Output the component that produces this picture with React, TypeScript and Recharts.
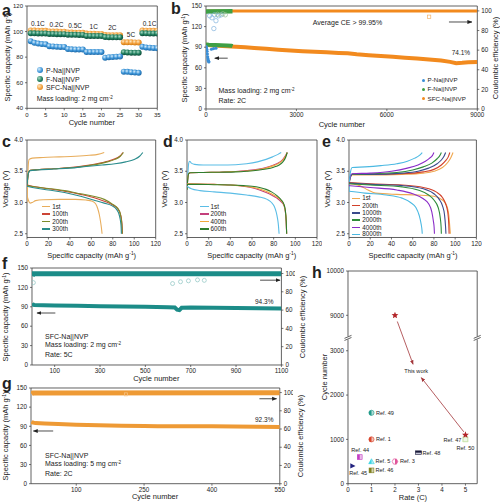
import React from 'react';
import {
  ComposedChart, ScatterChart, LineChart, Scatter, Line, XAxis, YAxis,
  ReferenceArea, ReferenceLine,
} from 'recharts';

const FONT = '"Liberation Sans", Arial, Helvetica, sans-serif';
const INK = '#222';
const AXIS = '#3a3a3a';

/* ---------------- a: rate capability ---------------- */
const rateCycles = [1, 2, 3, 4, 5, 6, 7, 8, 9, 10, 11, 12, 13, 14, 15, 16, 17, 18, 19, 20, 21, 22, 23, 24, 25, 26, 27, 28, 29, 30, 31, 32, 33, 34, 35];
const rateSteps = ['0.1C', '0.2C', '0.5C', '1C', '2C', '5C', '0.1C'];
const pNaRate = [92.5, 91.2, 90.6, 90.2, 90.0, 88.6, 88.4, 88.1, 88.0, 88.0, 86.4, 86.1, 86.0, 86.0, 86.0, 84.1, 84.0, 84.0, 84.0, 84.0, 79.5, 80.0, 80.1, 80.3, 80.5, 68.6, 68.5, 68.2, 68.0, 67.8, 88.1, 87.6, 87.4, 87.1, 87.0];
const fNaRate = [98.6, 98.6, 98.5, 98.5, 98.5, 98.1, 98.1, 98.0, 98.0, 98.0, 97.6, 97.5, 97.5, 97.4, 97.4, 96.6, 96.6, 96.5, 96.5, 96.5, 95.7, 95.6, 95.6, 95.5, 95.5, 83.8, 83.6, 83.5, 83.4, 83.4, 98.7, 98.6, 98.5, 98.5, 98.5];
const sfcRate = [100.9, 100.8, 100.7, 100.6, 100.6, 100.1, 100.0, 100.0, 99.9, 99.9, 99.3, 99.2, 99.1, 99.1, 99.0, 98.4, 98.3, 98.3, 98.2, 98.2, 97.3, 97.2, 97.2, 97.1, 97.1, 91.7, 91.6, 91.6, 91.5, 91.5, 100.8, 100.7, 100.6, 100.6, 100.5];
const cellNames = ['P-Na||NVP', 'F-Na||NVP', 'SFC-Na||NVP'];

/* ---------------- b: 2C long cycling ---------------- */
const sfcCapB = [[0, 93.5], [150, 92.8], [400, 92], [700, 91.2], [1000, 90.5], [1300, 89.8], [1600, 88.9], [2000, 87.6], [2400, 86.4], [2800, 85.2], [3200, 84.2], [3600, 83.3], [4000, 82.5], [4400, 81.6], [4700, 81.2], [5000, 79.8], [5400, 78.4], [5800, 77.2], [6200, 76], [6600, 74.8], [7000, 73.6], [7400, 72.2], [7800, 70.6], [8100, 68.6], [8300, 66.8], [8500, 67.2], [8700, 68.2], [9000, 68.4]];
const sfcCeB = [[0, 99.3], [50, 99.8], [1000, 99.9], [3000, 99.9], [6000, 99.95], [9000, 99.95]];
const fCapB = [[0, 93.8], [100, 93.5], [300, 93.2], [500, 93], [700, 92.6], [840, 92.2], [880, 91.5]];
const fCeB = [[0, 99.5], [880, 99.6]];
const pCapB = [[5, 91], [15, 89], [25, 87], [35, 84], [45, 80], [55, 76], [65, 73], [75, 71], [85, 69.5], [95, 68.5], [180, 87], [250, 88], [330, 88.5]];
const pCeB = [[120, 95], [200, 93], [280, 96], [330, 90], [420, 95], [500, 96], [260, 82]];
const fCeOutB = [[380, 96.5], [560, 97], [640, 96]];
const sfcCeOutB = [[7400, 94]];

/* ---------------- c, d, e: charge/discharge profiles ---------------- */
const cCycles = ['1st', '100th', '200th', '300th'];
const cCharge = [
  [[0, 3.0], [0.6, 3.3], [1.2, 3.6], [2, 3.69], [5, 3.71], [15, 3.72], [30, 3.73], [45, 3.74], [58, 3.755], [66, 3.77], [72, 3.8]],
  [[0, 3.28], [0.6, 3.38], [1.5, 3.48], [3, 3.515], [10, 3.525], [25, 3.54], [40, 3.56], [55, 3.59], [65, 3.62], [75, 3.66], [82, 3.7], [86.5, 3.74], [89.5, 3.8]],
  [[0, 3.27], [0.6, 3.38], [1.5, 3.48], [3, 3.515], [10, 3.525], [25, 3.54], [40, 3.555], [55, 3.585], [65, 3.61], [75, 3.65], [82, 3.69], [87, 3.74], [90, 3.8]],
  [[0, 3.26], [0.6, 3.38], [1.5, 3.48], [3, 3.51], [10, 3.52], [25, 3.535], [40, 3.55], [55, 3.575], [70, 3.6], [82, 3.62], [92, 3.65], [100, 3.69], [105, 3.74], [108, 3.8]],
];
const cDischarge = [
  [[0, 3.12], [1.2, 3.04], [3, 2.99], [5, 3.0], [8, 3.03], [15, 3.045], [30, 3.05], [45, 3.05], [55, 3.04], [61, 3.02], [64, 2.98], [66, 2.9], [67.5, 2.8], [68.7, 2.68], [69.5, 2.58], [70, 2.5]],
  [[0, 3.28], [5, 3.26], [20, 3.22], [35, 3.18], [50, 3.13], [62, 3.08], [72, 3.02], [80, 2.96], [84.5, 2.9], [87, 2.82], [88.2, 2.72], [88.8, 2.6], [89, 2.5]],
  [[0, 3.27], [5, 3.255], [20, 3.225], [35, 3.19], [50, 3.14], [62, 3.1], [72, 3.05], [80, 2.97], [84.5, 2.91], [87, 2.82], [88, 2.72], [88.6, 2.6], [88.8, 2.5]],
  [[0, 3.26], [5, 3.24], [20, 3.2], [35, 3.16], [50, 3.1], [62, 3.04], [72, 2.99], [79, 2.95], [83.5, 2.89], [86, 2.8], [87.2, 2.7], [87.8, 2.6], [88, 2.5]],
];
const dCycles = ['1st', '200th', '400th', '600th'];
const dCharge = [
  [[0, 3.22], [0.8, 3.45], [1.6, 3.63], [2.5, 3.66], [4, 3.63], [7, 3.61], [15, 3.6], [30, 3.6], [45, 3.605], [55, 3.62], [65, 3.65], [73, 3.69], [79, 3.73], [84, 3.77], [87, 3.8]],
  [[0, 3.22], [0.6, 3.36], [1.5, 3.46], [3, 3.475], [15, 3.48], [30, 3.485], [45, 3.495], [55, 3.51], [65, 3.53], [73, 3.56], [80, 3.6], [85, 3.64], [88.5, 3.69], [91, 3.75], [92.5, 3.8]],
  [[0, 3.22], [0.6, 3.36], [1.5, 3.46], [3, 3.475], [15, 3.48], [30, 3.485], [45, 3.495], [55, 3.505], [65, 3.525], [73, 3.55], [80, 3.59], [85, 3.63], [88.5, 3.68], [91, 3.74], [92.5, 3.8]],
  [[0, 3.2], [0.6, 3.35], [1.5, 3.46], [3, 3.475], [15, 3.48], [30, 3.485], [45, 3.49], [55, 3.5], [65, 3.515], [73, 3.535], [80, 3.565], [85, 3.6], [88.5, 3.65], [91, 3.72], [92.5, 3.8]],
];
const dDischarge = [
  [[0, 3.26], [4, 3.22], [12, 3.19], [25, 3.17], [40, 3.15], [55, 3.12], [66, 3.09], [74, 3.05], [78, 3.0], [80.5, 2.94], [82.3, 2.85], [83.5, 2.75], [84.3, 2.65], [85, 2.5]],
  [[0, 3.3], [10, 3.295], [25, 3.29], [40, 3.28], [52, 3.26], [60, 3.235], [67, 3.2], [73, 3.16], [78, 3.12], [83, 3.07], [87, 3.01], [89.5, 2.95], [90.8, 2.85], [91.5, 2.7], [92, 2.5]],
  [[0, 3.3], [10, 3.297], [25, 3.29], [40, 3.28], [52, 3.265], [60, 3.245], [67, 3.215], [73, 3.18], [78, 3.14], [83, 3.09], [87, 3.03], [89.5, 2.96], [90.8, 2.86], [91.6, 2.7], [92, 2.5]],
  [[0, 3.29], [10, 3.29], [25, 3.285], [40, 3.28], [52, 3.27], [60, 3.26], [67, 3.24], [73, 3.21], [78, 3.17], [83, 3.11], [87, 3.04], [89.5, 2.97], [90.8, 2.87], [91.6, 2.7], [92, 2.5]],
];
const eCycles = ['1st', '200th', '1000th', '2000th', '4000th', '8000th'];
const eCharge = [
  [[0, 3.25], [1, 3.38], [3, 3.44], [20, 3.44], [50, 3.45], [70, 3.47], [80, 3.5], [88, 3.56], [93, 3.64], [96, 3.72], [98, 3.8]],
  [[0, 3.28], [1, 3.4], [3, 3.45], [20, 3.45], [50, 3.46], [70, 3.49], [80, 3.53], [87, 3.6], [91, 3.67], [93.5, 3.73], [95, 3.8]],
  [[0, 3.3], [1, 3.4], [3, 3.45], [20, 3.45], [50, 3.47], [65, 3.5], [75, 3.55], [83, 3.62], [87, 3.68], [89.5, 3.74], [91, 3.8]],
  [[0, 3.3], [1, 3.4], [3, 3.45], [20, 3.46], [45, 3.48], [60, 3.52], [70, 3.57], [78, 3.63], [83, 3.7], [85.5, 3.75], [87, 3.8]],
  [[0, 3.27], [1, 3.4], [3, 3.46], [20, 3.47], [40, 3.5], [55, 3.55], [65, 3.6], [72, 3.66], [76, 3.71], [78.5, 3.75], [80, 3.8]],
  [[0, 3.18], [1, 3.45], [3, 3.56], [15, 3.57], [30, 3.59], [45, 3.62], [55, 3.66], [62, 3.71], [66, 3.75], [69, 3.8]],
];
const eDischarge = [
  [[0, 3.3], [10, 3.27], [18, 3.2], [25, 3.15], [45, 3.13], [65, 3.12], [80, 3.1], [88, 3.04], [92, 2.95], [94, 2.8], [95, 2.6], [95.5, 2.5]],
  [[0, 3.32], [20, 3.3], [50, 3.28], [70, 3.24], [82, 3.17], [88, 3.08], [91, 2.98], [93, 2.85], [94, 2.65], [94.3, 2.5]],
  [[0, 3.31], [20, 3.29], [50, 3.27], [70, 3.22], [80, 3.14], [85, 3.05], [88, 2.95], [90, 2.8], [91, 2.6], [91.3, 2.5]],
  [[0, 3.3], [20, 3.28], [50, 3.25], [65, 3.2], [75, 3.12], [80, 3.04], [84, 2.92], [86, 2.75], [86.8, 2.6], [87, 2.5]],
  [[0, 3.27], [20, 3.24], [45, 3.2], [60, 3.14], [70, 3.06], [75, 2.98], [78, 2.85], [79.5, 2.7], [80.2, 2.6], [80.5, 2.5]],
  [[0, 3.18], [15, 3.15], [35, 3.12], [50, 3.07], [58, 3.0], [63, 2.92], [66, 2.8], [68, 2.65], [68.8, 2.55], [69, 2.5]],
];

/* ---------------- f: 5C cycling ---------------- */
const fCap = [[1, 95.5], [4, 93.5], [10, 92.8], [50, 92.5], [100, 92.1], [200, 91.5], [300, 91], [400, 90.4], [500, 89.9], [600, 89.3], [630, 88.8], [640, 85.5], [650, 84.8], [660, 88.5], [700, 88.9], [800, 88.5], [900, 88.2], [1000, 87.8], [1100, 87.5]];
const fCe = [[1, 97], [5, 99.7], [1100, 99.8]];
const fCeOut = [[6, 90], [620, 89], [655, 91], [690, 92], [730, 93], [760, 92.5]];

/* ---------------- g: 5 mg cm-2 cycling ---------------- */
const gCap = [[1, 97.5], [3, 96], [10, 95], [30, 94.5], [60, 93.5], [100, 92.5], [150, 91.6], [200, 91], [250, 90.5], [280, 90], [350, 90.2], [400, 90], [450, 89.6], [500, 89.2], [550, 88.9]];
const gCe = [[1, 98.5], [4, 99.6], [550, 99.7]];
const gCeOut = [[210, 98]];

/* ---------------- h: comparison with literature ---------------- */
const refNames = ['Ref. 49', 'Ref. 1', 'Ref. 44', 'Ref. 5', 'Ref. 45', 'Ref. 46', 'Ref. 3', 'Ref. 48', 'Ref. 47', 'Ref. 50'];
const refRates = [1, 1, 0.5, 1, 0.2, 1, 2, 3, 5, 5];
const refCycles = [1600, 1000, 600, 500, 400, 300, 500, 700, 1000, 1000];
const workRates = [2, 5];
const workCycles = [9000, 1100];

// broken cycle-number axis: values above the gap are shifted down
const GAP_LO = 3300;
const GAP_HI = 8500;
const shownY = (v: number) => (v >= GAP_HI ? v - (GAP_HI - GAP_LO) : v);
const realY = (v: number) => (v > GAP_LO ? v + (GAP_HI - GAP_LO) : v);

/* ---------------- layout ---------------- */
type Geo = { x0: number; x1: number; y0: number; y1: number; xd: number[]; yd: number[]; rd?: number[] };
const GA: Geo = { x0: 26.7, x1: 157, y0: 6, y1: 108.3, xd: [0, 35], yd: [40, 120] };
const GB: Geo = { x0: 206.2, x1: 477.5, y0: 6, y1: 109, xd: [0, 9000], yd: [0, 150], rd: [0, 105] };
const GC: Geo = { x0: 27.3, x1: 156, y0: 140, y1: 237.5, xd: [0, 120], yd: [2.44, 4.0] };
const GD: Geo = { ...GC, x0: 186.7, x1: 316.7 };
const GE: Geo = { ...GC, x0: 349.3, x1: 476.7 };
const GF: Geo = { x0: 31.6, x1: 281, y0: 268, y1: 365, xd: [0, 1100], yd: [0, 150], rd: [0, 106] };
const GG: Geo = { x0: 30.7, x1: 279.5, y0: 388, y1: 483.7, xd: [0, 550], yd: [0, 150], rd: [0, 105] };
const GH: Geo = { x0: 348.3, x1: 477.5, y0: 271, y1: 483.7, xd: [0, 5.5], yd: [0, 4800] };

const px = (g: Geo, x: number) => g.x0 + ((x - g.xd[0]) / (g.xd[1] - g.xd[0])) * (g.x1 - g.x0);
const py = (g: Geo, y: number) => g.y1 - ((y - g.yd[0]) / (g.yd[1] - g.yd[0])) * (g.y1 - g.y0);

type Pad = { l: number; r: number; t: number; b: number };
function place(g: Geo, p: Pad) {
  return {
    style: { position: 'absolute' as const, left: g.x0 - p.l, top: g.y0 - p.t },
    width: g.x1 - g.x0 + p.l + p.r,
    height: g.y1 - g.y0 + p.t + p.b,
  };
}

const axisProps = (fs: number, margin = 2) => ({
  axisLine: false,
  tickLine: { stroke: AXIS, strokeWidth: 0.7 },
  tickSize: 2,
  tickMargin: margin,
  interval: 0 as const,
  allowDataOverflow: true,
  tick: { fontSize: fs, fill: INK, fontFamily: FONT },
});

const pts = (arr: number[][]) => arr.map(([c, v]) => ({ c, v }));

/* ---------------- text helpers ---------------- */
type TP = { x: number; y: number; size?: number; anchor?: 'start' | 'middle' | 'end'; rot?: boolean; bold?: boolean; children: React.ReactNode };
function Txt({ x, y, size = 7, anchor = 'start', rot = false, bold = false, children }: TP) {
  const tx = anchor === 'start' ? '0%' : anchor === 'middle' ? '-50%' : '-100%';
  return (
    <div
      style={{
        position: 'absolute', left: x, top: y, fontSize: size, fontWeight: bold ? 700 : 400,
        lineHeight: 1, whiteSpace: 'nowrap', color: INK, fontFamily: FONT,
        transform: rot ? 'translate(-50%,-50%) rotate(-90deg)' : `translate(${tx},-50%)`,
      }}
    >
      {children}
    </div>
  );
}
const Sup = ({ children }: { children: React.ReactNode }) => (
  <span style={{ fontSize: '0.65em', position: 'relative', top: '-0.45em' }}>{children}</span>
);
const capTitle = <>Specific capacity (mAh g<Sup>-1</Sup>)</>;

/* ---------------- marker shapes ---------------- */
const ball = (id: string, r: number) => (p: any) => <circle cx={p.cx} cy={p.cy} r={r} fill={`url(#${id})`} />;
const dotShape = (color: string, r: number) => (p: any) => <circle cx={p.cx} cy={p.cy} r={r} fill={color} />;
const ringShape = (color: string, r: number) => (p: any) => (
  <circle cx={p.cx} cy={p.cy} r={r} fill="none" stroke={color} strokeWidth={0.7} />
);
const openSquareShape = (color: string, s: number) => (p: any) => (
  <rect x={p.cx - s / 2} y={p.cy - s / 2} width={s} height={s} fill="none" stroke={color} strokeWidth={0.7} />
);
const arrow = (head: string, color: string) => (p: any) => (
  <line x1={p.x1} y1={p.y1} x2={p.x2} y2={p.y2} stroke={color} strokeWidth={0.8} markerEnd={`url(#${head})`} />
);

function starPath(cx: number, cy: number, R: number) {
  const out: string[] = [];
  for (let i = 0; i < 10; i++) {
    const rr = i % 2 === 0 ? R : R * 0.45;
    const a = -Math.PI / 2 + (i * Math.PI) / 5;
    out.push(`${(cx + rr * Math.cos(a)).toFixed(2)},${(cy + rr * Math.sin(a)).toFixed(2)}`);
  }
  return `M${out.join('L')}Z`;
}

const refStyle: Record<string, { color: string; kind: string }> = {
  'Ref. 49': { color: '#1f9a8a', kind: 'halfCircle' },
  'Ref. 1': { color: '#d9452b', kind: 'halfCircle' },
  'Ref. 44': { color: '#c43fc4', kind: 'halfSquare' },
  'Ref. 5': { color: '#37d3e3', kind: 'halfTri' },
  'Ref. 45': { color: '#23237f', kind: 'triRight' },
  'Ref. 46': { color: '#7f7f1f', kind: 'halfSquare' },
  'Ref. 3': { color: '#e0559b', kind: 'halfDiamond' },
  'Ref. 48': { color: '#1a1a3a', kind: 'halfRect' },
  'Ref. 47': { color: '#9ccf6a', kind: 'openSquare' },
  'Ref. 50': { color: '#cde6b2', kind: 'openSquare' },
};
const refLabel: Record<string, { dx: number; dy: number; anchor: 'start' | 'end' }> = {
  'Ref. 49': { dx: 4.5, dy: 0, anchor: 'start' },
  'Ref. 1': { dx: 4.5, dy: 0, anchor: 'start' },
  'Ref. 44': { dx: -8.5, dy: -6.7, anchor: 'start' },
  'Ref. 5': { dx: 4, dy: 0, anchor: 'start' },
  'Ref. 45': { dx: -3.5, dy: 7.3, anchor: 'start' },
  'Ref. 46': { dx: 4, dy: 0, anchor: 'start' },
  'Ref. 3': { dx: 5, dy: 0, anchor: 'start' },
  'Ref. 48': { dx: 4, dy: 0, anchor: 'start' },
  'Ref. 47': { dx: -4, dy: 0.6, anchor: 'end' },
  'Ref. 50': { dx: -9, dy: 8.4, anchor: 'start' },
};

function refMarker(p: any) {
  const { cx, cy, payload } = p;
  const st = refStyle[payload.name];
  const lb = refLabel[payload.name];
  const c = st.color;
  let mark: React.ReactNode = null;
  if (st.kind === 'halfCircle') {
    mark = (
      <g>
        <circle cx={cx} cy={cy} r={2.6} fill={c} fillOpacity={0.35} stroke={c} strokeWidth={0.6} />
        <path d={`M${cx},${cy - 2.6}A2.6,2.6 0 0,0 ${cx},${cy + 2.6}Z`} fill={c} />
      </g>
    );
  } else if (st.kind === 'halfSquare') {
    mark = (
      <g>
        <rect x={cx - 2.4} y={cy - 2.4} width={4.8} height={4.8} fill={c} fillOpacity={0.35} stroke={c} strokeWidth={0.6} />
        <rect x={cx - 2.4} y={cy - 2.4} width={2.4} height={4.8} fill={c} />
      </g>
    );
  } else if (st.kind === 'halfTri') {
    mark = (
      <g>
        <path d={`M${cx},${cy - 2.8}L${cx + 2.8},${cy + 2.2}L${cx - 2.8},${cy + 2.2}Z`} fill={c} fillOpacity={0.4} stroke={c} strokeWidth={0.6} />
        <path d={`M${cx},${cy - 2.8}L${cx},${cy + 2.2}L${cx - 2.8},${cy + 2.2}Z`} fill={c} />
      </g>
    );
  } else if (st.kind === 'triRight') {
    mark = <path d={`M${cx - 2.4},${cy - 2.6}L${cx + 2.8},${cy}L${cx - 2.4},${cy + 2.6}Z`} fill={c} />;
  } else if (st.kind === 'halfDiamond') {
    mark = (
      <g>
        <path d={`M${cx - 2.8},${cy}L${cx - 1.4},${cy - 2.6}L${cx + 1.4},${cy - 2.6}L${cx + 2.8},${cy}L${cx + 1.4},${cy + 2.6}L${cx - 1.4},${cy + 2.6}Z`} fill="#fff" stroke={c} strokeWidth={0.7} />
        <path d={`M${cx},${cy - 2.6}L${cx + 1.4},${cy - 2.6}L${cx + 2.8},${cy}L${cx + 1.4},${cy + 2.6}L${cx},${cy + 2.6}Z`} fill={c} />
      </g>
    );
  } else if (st.kind === 'halfRect') {
    mark = (
      <g>
        <rect x={cx - 3} y={cy - 1.8} width={6} height={3.6} fill="#c8c8d8" stroke={c} strokeWidth={0.6} />
        <rect x={cx - 3} y={cy - 1.8} width={6} height={1.8} fill={c} />
      </g>
    );
  } else {
    mark = <rect x={cx - 2.3} y={cy - 2.3} width={4.6} height={4.6} fill="#eef7e6" stroke={c} strokeWidth={0.8} />;
  }
  return (
    <g>
      {mark}
      <text x={cx + lb.dx} y={cy + lb.dy} dy="0.35em" textAnchor={lb.anchor} fontSize={5.6} fontFamily={FONT} fill={INK}>
        {payload.name}
      </text>
    </g>
  );
}
const starShape = (p: any) => <path d={starPath(p.cx, p.cy, 3.6)} fill="#b3262a" />;

function breakShape(p: any) {
  const { x, y, width, height } = p;
  return (
    <g>
      {[x, x + width].map((xx: number) => (
        <g key={xx}>
          <rect x={xx - 4} y={y} width={8} height={height} fill="#fff" />
          <line x1={xx - 3.5} y1={y + 2} x2={xx + 3.5} y2={y - 1} stroke={AXIS} strokeWidth={0.8} />
          <line x1={xx - 3.5} y1={y + height + 1} x2={xx + 3.5} y2={y + height - 2} stroke={AXIS} strokeWidth={0.8} />
        </g>
      ))}
    </g>
  );
}

function Frame(g: Geo, yAxisId?: string) {
  return (
    <ReferenceArea
      x1={g.xd[0]} x2={g.xd[1]} y1={g.yd[0]} y2={g.yd[1]}
      {...(yAxisId ? { yAxisId } : {})}
      fill="none" fillOpacity={0} stroke={AXIS} strokeWidth={0.8} ifOverflow="visible"
    />
  );
}

/* ---------------- colours ---------------- */
const cColors = ['#e8ad5c', '#cc4536', '#7d8b2b', '#2a8c8c'];
const dColors = ['#5bbde6', '#c4407c', '#f0a83c', '#2e7c2e'];
const eColors = ['#f0a850', '#d2402a', '#3a4a8c', '#2e8c3a', '#8a2cc8', '#4bb9e2'];
const bBlue = '#3a8ed6';
const bGreen = '#3f9f45';
const bOrange = '#f28a1e';
const fTeal = '#1c8c88';
const gOrange = '#ee9a35';

/* ---------------- panels ---------------- */
function PanelA() {
  const pad = { l: 20, r: 4, t: 5, b: 12 };
  const box = place(GA, pad);
  const series = [pNaRate, fNaRate, sfcRate].map((vals) => rateCycles.map((c, i) => ({ c, v: vals[i] })));
  const grads = ['ballBlue', 'ballGreen', 'ballOrange'];
  const legendY = [70.3, 78.7, 87];
  const legendCss = [
    'radial-gradient(circle at 35% 35%, #d4ecfc, #3d95d8 55%, #1e6aa8)',
    'radial-gradient(circle at 35% 35%, #a6d8c3, #21805f 55%, #0f4c3a)',
    'radial-gradient(circle at 35% 35%, #fde6bf, #f3a03c 55%, #cf7a12)',
  ];
  return (
    <>
      <div style={box.style}>
        <ScatterChart width={box.width} height={box.height} margin={{ top: pad.t, right: pad.r, bottom: 0, left: 0 }}>
          <XAxis type="number" dataKey="c" domain={GA.xd} ticks={[0, 5, 10, 15, 20, 25, 30, 35]} height={pad.b} {...axisProps(6)} />
          <YAxis type="number" dataKey="v" domain={GA.yd} ticks={[40, 60, 80, 100, 120]} width={pad.l} {...axisProps(6)} />
          {Frame(GA)}
          <Scatter data={series[2]} shape={ball(grads[2], 3)} isAnimationActive={false} />
          <Scatter data={series[1]} shape={ball(grads[1], 3)} isAnimationActive={false} />
          <Scatter data={series[0]} shape={ball(grads[0], 3)} isAnimationActive={false} />
        </ScatterChart>
      </div>
      <Txt x={2} y={11} size={16} bold>a</Txt>
      <Txt x={8} y={57} size={7.5} rot>{capTitle}</Txt>
      <Txt x={(GA.x0 + GA.x1) / 2} y={123} size={7.5} anchor="middle">Cycle number</Txt>
      {rateSteps.map((s, i) => {
        const grp = sfcRate.slice(i * 5, i * 5 + 5);
        return (
          <Txt key={i} x={px(GA, i * 5 + 3)} y={py(GA, Math.max(...grp)) - 6.8} size={6.5} anchor="middle">
            {s}
          </Txt>
        );
      })}
      {cellNames.map((n, i) => (
        <React.Fragment key={n}>
          <div style={{ position: 'absolute', left: 37, top: legendY[i] - 3, width: 6, height: 6, borderRadius: 3, background: legendCss[i] }} />
          <Txt x={46} y={legendY[i]} size={7}>{n}</Txt>
        </React.Fragment>
      ))}
      <Txt x={36.7} y={99.3} size={7}>Mass loading: 2 mg cm<Sup>-2</Sup></Txt>
    </>
  );
}

function PanelB() {
  const pad = { l: 20, r: 15, t: 5, b: 12 };
  const box = place(GB, pad);
  const legendY = [80.3, 89.3, 98.7];
  const legendCol = [bBlue, bGreen, bOrange];
  return (
    <>
      <div style={box.style}>
        <ComposedChart width={box.width} height={box.height} margin={{ top: pad.t, right: 0, bottom: 0, left: 0 }}>
          <XAxis type="number" dataKey="c" domain={GB.xd} ticks={[0, 3000, 6000, 9000]} height={pad.b} {...axisProps(6.3)} />
          <YAxis yAxisId="L" type="number" domain={GB.yd} ticks={[0, 30, 60, 90, 120, 150]} width={pad.l} {...axisProps(6.3)} />
          <YAxis yAxisId="R" orientation="right" type="number" domain={GB.rd} ticks={[0, 20, 40, 60, 80, 100]} width={pad.r} {...axisProps(6.3)} />
          {Frame(GB, 'L')}
          <Line yAxisId="R" data={pts(sfcCeB)} dataKey="v" type="linear" stroke={bOrange} strokeWidth={3} dot={false} isAnimationActive={false} />
          <Line yAxisId="L" data={pts(sfcCapB)} dataKey="v" type="linear" stroke={bOrange} strokeWidth={4} dot={false} isAnimationActive={false} />
          <Line yAxisId="R" data={pts(fCeB)} dataKey="v" type="linear" stroke={bGreen} strokeWidth={4.5} dot={false} isAnimationActive={false} />
          <Line yAxisId="L" data={pts(fCapB)} dataKey="v" type="linear" stroke={bGreen} strokeWidth={4} dot={false} isAnimationActive={false} />
          <Scatter yAxisId="L" data={pts(pCapB)} dataKey="v" shape={dotShape(bBlue, 1.6)} isAnimationActive={false} />
          <Scatter yAxisId="R" data={pts(pCeB)} dataKey="v" shape={ringShape('#7fb2dc', 2.2)} isAnimationActive={false} />
          <Scatter yAxisId="R" data={pts(fCeOutB)} dataKey="v" shape={ringShape('#9abf9a', 2.2)} isAnimationActive={false} />
          <Scatter yAxisId="R" data={pts(sfcCeOutB)} dataKey="v" shape={openSquareShape('#f2b36a', 3.4)} isAnimationActive={false} />
          <ReferenceLine yAxisId="L" segment={[{ x: 720, y: 74 }, { x: 290, y: 74 }]} shape={arrow('headInk', '#222')} />
          <ReferenceLine yAxisId="R" segment={[{ x: 8060, y: 88.7 }, { x: 8820, y: 88.7 }]} shape={arrow('headInk', '#222')} />
        </ComposedChart>
      </div>
      <Txt x={171} y={9} size={16} bold>b</Txt>
      <Txt x={185} y={57.5} size={7.5} rot>{capTitle}</Txt>
      <Txt x={495.5} y={58} size={7.5} rot>Coulombic efficiency (%)</Txt>
      <Txt x={(GB.x0 + GB.x1) / 2} y={124.5} size={7.5} anchor="middle">Cycle number</Txt>
      <Txt x={347.5} y={22} size={7} anchor="middle">Average CE &gt; 99.95%</Txt>
      <Txt x={451.7} y={53.3} size={6.5}>74.1%</Txt>
      {cellNames.map((n, i) => (
        <React.Fragment key={n}>
          <div style={{ position: 'absolute', left: 421.8, top: legendY[i] - 1.6, width: 3.2, height: 3.2, borderRadius: 1.6, background: legendCol[i] }} />
          <Txt x={427.5} y={legendY[i]} size={6.2}>{n}</Txt>
        </React.Fragment>
      ))}
      <Txt x={218.5} y={91} size={7}>Mass loading: 2 mg cm<Sup>-2</Sup></Txt>
      <Txt x={218.5} y={100} size={7}>Rate: 2C</Txt>
    </>
  );
}

function ProfilePanel({ g, letter, letterX, names, charge, discharge, colors, legendX, legendY }: {
  g: Geo; letter: string; letterX: number; names: string[]; charge: number[][][]; discharge: number[][][];
  colors: string[]; legendX: number; legendY: number[];
}) {
  const pad = { l: 18, r: 5, t: 5, b: 12 };
  const box = place(g, pad);
  const toQV = (arr: number[][]) => arr.map(([q, V]) => ({ q, V }));
  return (
    <>
      <div style={box.style}>
        <LineChart width={box.width} height={box.height} margin={{ top: pad.t, right: pad.r, bottom: 0, left: 0 }}>
          <XAxis type="number" dataKey="q" domain={g.xd} ticks={[0, 20, 40, 60, 80, 100, 120]} height={pad.b} {...axisProps(6.3)} />
          <YAxis type="number" domain={g.yd} ticks={[2.5, 3.0, 3.5, 4.0]} tickFormatter={(v: number) => v.toFixed(1)} width={pad.l} {...axisProps(6.3)} />
          {Frame(g)}
          {names.map((n, i) => (
            <Line key={`c${n}`} data={toQV(charge[i])} dataKey="V" type="monotone" stroke={colors[i]} strokeWidth={1.1} dot={false} isAnimationActive={false} />
          ))}
          {names.map((n, i) => (
            <Line key={`d${n}`} data={toQV(discharge[i])} dataKey="V" type="monotone" stroke={colors[i]} strokeWidth={1.1} dot={false} isAnimationActive={false} />
          ))}
        </LineChart>
      </div>
      <Txt x={letterX} y={142} size={16} bold>{letter}</Txt>
      <Txt x={g.x0 - 21.5} y={(g.y0 + g.y1) / 2} size={7.5} rot>Voltage (V)</Txt>
      <Txt x={(g.x0 + g.x1) / 2} y={255.5} size={7.5} anchor="middle">Specific capacity (mAh g<Sup>-1</Sup>)</Txt>
      {names.map((n, i) => (
        <React.Fragment key={`l${n}`}>
          <div style={{ position: 'absolute', left: legendX, top: legendY[i] - 0.75, width: 8.5, height: 1.5, background: colors[i] }} />
          <Txt x={legendX + 10.5} y={legendY[i]} size={6.3}>{n}</Txt>
        </React.Fragment>
      ))}
    </>
  );
}

function CyclePanel({ g, letter, cap, ce, out, color, outShape, ticks, notes, pct, leftArrow, rightArrow }: {
  g: Geo; letter: string; cap: number[][]; ce: number[][]; out: number[][]; color: string; outShape: any;
  ticks: number[]; notes: React.ReactNode[]; pct: string; leftArrow: number[]; rightArrow: number[];
}) {
  const pad = { l: 20, r: 14, t: 5, b: 12 };
  const box = place(g, pad);
  const midY = (g.y0 + g.y1) / 2;
  return (
    <>
      <div style={box.style}>
        <ComposedChart width={box.width} height={box.height} margin={{ top: pad.t, right: 0, bottom: 0, left: 0 }}>
          <XAxis type="number" dataKey="c" domain={g.xd} ticks={ticks} height={pad.b} {...axisProps(6.3, 2)} />
          <YAxis yAxisId="L" type="number" domain={g.yd} ticks={[0, 30, 60, 90, 120, 150]} width={pad.l} {...axisProps(6.3)} />
          <YAxis yAxisId="R" orientation="right" type="number" domain={g.rd} ticks={[0, 20, 40, 60, 80, 100]} width={pad.r} {...axisProps(6.3)} />
          {Frame(g, 'L')}
          <Line yAxisId="R" data={pts(ce)} dataKey="v" type="linear" stroke={color} strokeWidth={5} dot={false} isAnimationActive={false} />
          <Line yAxisId="L" data={pts(cap)} dataKey="v" type="linear" stroke={color} strokeWidth={4} dot={false} isAnimationActive={false} />
          <Scatter yAxisId="R" data={pts(out)} dataKey="v" shape={outShape} isAnimationActive={false} />
          <ReferenceLine yAxisId="L" segment={[{ x: leftArrow[0], y: leftArrow[2] }, { x: leftArrow[1], y: leftArrow[2] }]} shape={arrow('headInk', '#222')} />
          <ReferenceLine yAxisId="R" segment={[{ x: rightArrow[0], y: rightArrow[2] }, { x: rightArrow[1], y: rightArrow[2] }]} shape={arrow('headInk', '#222')} />
        </ComposedChart>
      </div>
      <Txt x={2} y={g.y0 - 4} size={16} bold>{letter}</Txt>
      <Txt x={6} y={midY} size={7.5} rot>{capTitle}</Txt>
      <Txt x={g.x1 + 21.5} y={midY} size={7.5} rot>Coulombic efficiency (%)</Txt>
      <Txt x={(g.x0 + g.x1) / 2} y={g.y1 + 13.5} size={7.5} anchor="middle">Cycle number</Txt>
      <Txt x={255} y={py(g, cap[cap.length - 1][1]) - 6.5} size={6.5}>{pct}</Txt>
      {notes.map((n, i) => (
        <Txt key={i} x={45} y={g.y1 - 29 + i * 9} size={7}>{n}</Txt>
      ))}
    </>
  );
}

function PanelH() {
  const pad = { l: 24, r: 5, t: 5, b: 12 };
  const box = place(GH, pad);
  const refData = refNames.map((name, i) => ({ x: refRates[i], y: shownY(refCycles[i]), name }));
  const workData = workRates.map((r, i) => ({ x: r, y: shownY(workCycles[i]) }));
  const textX = 2.89;
  const textY = 2512;
  return (
    <>
      <div style={box.style}>
        <ScatterChart width={box.width} height={box.height} margin={{ top: pad.t, right: pad.r, bottom: 0, left: 0 }}>
          <XAxis type="number" dataKey="x" domain={GH.xd} ticks={[0, 1, 2, 3, 4, 5]} height={pad.b} {...axisProps(6.3)} />
          <YAxis
            type="number" dataKey="y" domain={GH.yd} ticks={[0, 1000, 2000, 3000, shownY(9000), shownY(10000)]}
            tickFormatter={(v: number) => String(realY(v))} width={pad.l} {...axisProps(6.3)}
          />
          {Frame(GH)}
          <ReferenceArea x1={0} x2={5.5} y1={GAP_LO - 45} y2={GAP_LO + 25} ifOverflow="visible" shape={breakShape} />
          <ReferenceLine segment={[{ x: workRates[0] + 0.1, y: shownY(workCycles[0]) - 140 }, { x: 2.77, y: 2695 }]} shape={arrow('headRed', '#a3363a')} />
          <ReferenceLine segment={[{ x: workRates[1] - 0.07, y: shownY(workCycles[1]) + 70 }, { x: 3.12, y: 2393 }]} shape={arrow('headRed', '#a3363a')} />
          <Scatter data={refData} shape={refMarker} isAnimationActive={false} />
          <Scatter data={workData} shape={starShape} isAnimationActive={false} />
        </ScatterChart>
      </div>
      <Txt x={312} y={273} size={16} bold>h</Txt>
      <Txt x={325} y={(GH.y0 + GH.y1) / 2} size={7.5} rot>Cycle number</Txt>
      <Txt x={(GH.x0 + GH.x1) / 2} y={498.3} size={7.5} anchor="middle">Rate (C)</Txt>
      <Txt x={px(GH, textX)} y={py(GH, textY)} size={5.6} anchor="middle">This work</Txt>
    </>
  );
}

function Defs() {
  return (
    <svg width={0} height={0} style={{ position: 'absolute' }}>
      <defs>
        <radialGradient id="ballBlue" cx="38%" cy="35%" r="65%">
          <stop offset="0%" stopColor="#d4ecfc" />
          <stop offset="55%" stopColor="#3d95d8" />
          <stop offset="100%" stopColor="#1e6aa8" />
        </radialGradient>
        <radialGradient id="ballGreen" cx="38%" cy="35%" r="65%">
          <stop offset="0%" stopColor="#a6d8c3" />
          <stop offset="55%" stopColor="#21805f" />
          <stop offset="100%" stopColor="#0f4c3a" />
        </radialGradient>
        <radialGradient id="ballOrange" cx="38%" cy="35%" r="65%">
          <stop offset="0%" stopColor="#fde6bf" />
          <stop offset="55%" stopColor="#f3a03c" />
          <stop offset="100%" stopColor="#cf7a12" />
        </radialGradient>
        <marker id="headInk" markerUnits="userSpaceOnUse" markerWidth={5} markerHeight={5} viewBox="0 0 10 10" refX={9} refY={5} orient="auto">
          <path d="M0,1 L10,5 L0,9 z" fill="#222" />
        </marker>
        <marker id="headRed" markerUnits="userSpaceOnUse" markerWidth={4.5} markerHeight={4.5} viewBox="0 0 10 10" refX={9} refY={5} orient="auto">
          <path d="M0,1 L10,5 L0,9 z" fill="#a3363a" />
        </marker>
      </defs>
    </svg>
  );
}

export default function App() {
  return (
    <div style={{ position: 'absolute', left: 0, top: 0, width: 500, height: 503, background: '#fff', overflow: 'hidden', fontFamily: FONT }}>
      <Defs />
      <PanelA />
      <PanelB />
      <ProfilePanel g={GC} letter="c" letterX={2} names={cCycles} charge={cCharge} discharge={cDischarge} colors={cColors} legendX={41.7} legendY={[206.7, 214.2, 221.7, 229.2]} />
      <ProfilePanel g={GD} letter="d" letterX={163} names={dCycles} charge={dCharge} discharge={dDischarge} colors={dColors} legendX={200} legendY={[206.7, 214.2, 221.7, 229.2]} />
      <ProfilePanel g={GE} letter="e" letterX={322} names={eCycles} charge={eCharge} discharge={eDischarge} colors={eColors} legendX={351.7} legendY={[198.3, 205.6, 212.9, 220.2, 227.5, 234.3]} />
      <CyclePanel
        g={GF} letter="f" cap={fCap} ce={fCe} out={fCeOut} color={fTeal} outShape={ringShape('#8cc4c2', 2)}
        ticks={[100, 300, 500, 700, 900, 1100]} pct="94.3%"
        notes={['SFC-Na||NVP', <>Mass loading: 2 mg cm<Sup>-2</Sup></>, 'Rate: 5C']}
        leftArrow={[103, 22, 80.4]} rightArrow={[1006, 1094, 92.7]}
      />
      <CyclePanel
        g={GG} letter="g" cap={gCap} ce={gCe} out={gCeOut} color={gOrange} outShape={openSquareShape('#f6c48a', 3)}
        ticks={[100, 250, 400, 550]} pct="92.3%"
        notes={['SFC-Na||NVP', <>Mass loading: 5 mg cm<Sup>-2</Sup></>, 'Rate: 2C']}
        leftArrow={[49, 5, 82.6]} rightArrow={[505, 543, 93.2]}
      />
      <PanelH />
    </div>
  );
}
